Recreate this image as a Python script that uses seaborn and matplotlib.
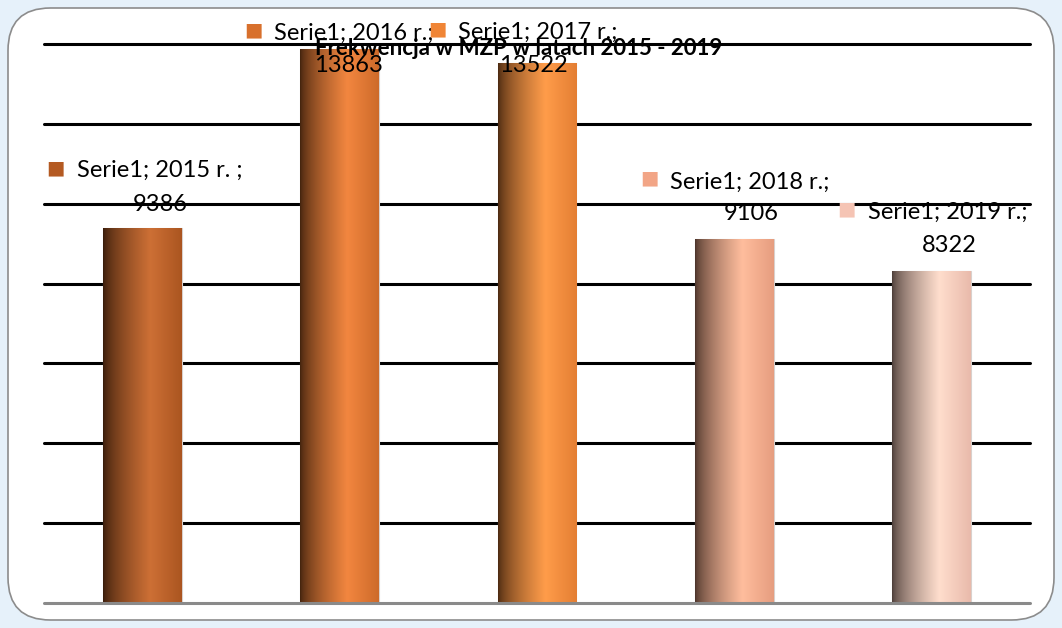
import numpy as np
import pandas as pd
import matplotlib
matplotlib.use("Agg")
import matplotlib.pyplot as plt
from matplotlib.colors import to_rgb
from matplotlib.patches import FancyBboxPatch
import seaborn as sns

# data
years = ["2015 r.", "2016 r.", "2017 r.", "2018 r.", "2019 r."]
values = [9386, 13863, 13522, 9106, 8322]
point_labels = ["Serie1; 2015 r. ;", "Serie1; 2016 r.;", "Serie1; 2017 r.;",
                "Serie1; 2018 r.;", "Serie1; 2019 r.;"]
bar_colors = ["#b45a22", "#d8702c", "#f08536", "#f2a586", "#f5c4b4"]
title = "Frekwencja w MZP w latach 2015 - 2019"

# label placement, offsets in pixels from the bar top:
# square centre, label text (left, baseline), value (centre, baseline)
label_offsets = [
    ((-87, 60), (-66, 51), (18, 17)),
    ((-86, 20), (-66, 10), (9, -23)),
    ((-100, 34), (-79, 24), (-4, -9)),
    ((-85, 61), (-64, 51), (17, 19)),
    ((-85, 62), (-63, 52), (18, 19)),
]

sns.set_style("white")
plt.rcParams["font.family"] = ["Lato", "DejaVu Sans"]

fig = plt.figure(figsize=(10.62, 6.28), dpi=100)
fig.patch.set_facecolor("#e6f1fa")
frame = FancyBboxPatch((8 / 1062, 8 / 628), 1046 / 1062, 612 / 628,
                       boxstyle="round,pad=0,rounding_size=0.04",
                       transform=fig.transFigure, facecolor="white",
                       edgecolor="#8c8c8c", linewidth=1.2,
                       mutation_aspect=1062 / 628, zorder=-5)
fig.patches.append(frame)

ax = fig.add_axes([44 / 1062, 25 / 628, 986 / 1062, 559 / 628])
ax.set_facecolor("none")

df = pd.DataFrame({"year": years, "value": values})
sns.barplot(data=df, x="year", y="value", hue="year", palette=bar_colors,
            legend=False, width=0.4, ax=ax, zorder=3)

ax.set_ylim(0, 14000)
ax.set_xlim(-0.5, len(years) - 0.5)

# cylinder-like shading on each bar
n = 200
t = np.linspace(0, 1, n)
for patch, col in zip(ax.patches, bar_colors):
    base = np.array(to_rgb(col))
    dark = base * 0.3
    light = np.clip(base * 1.04 + 0.07, 0, 1)
    right = base * 0.95
    grad = np.zeros((1, n, 3))
    for i, tt in enumerate(t):
        if tt < 0.6:
            s = (tt / 0.6) ** 0.65
            c = dark * (1 - s) + light * s
        else:
            s = (tt - 0.6) / 0.4
            c = light * (1 - s) + right * s
        grad[0, i] = c
    x0 = patch.get_x()
    w = patch.get_width()
    h = patch.get_height()
    im = ax.imshow(grad, extent=[x0, x0 + w, 0, h], aspect="auto",
                   zorder=4, interpolation="bilinear")
    im.set_clip_path(patch)
    patch.set_edgecolor("#d9d0cc")
    patch.set_linewidth(0.8)

ax.set_ylim(0, 14000)
ax.set_xlim(-0.5, len(years) - 0.5)

for yv in range(2000, 14001, 2000):
    ax.axhline(yv, color="black", linewidth=2.2, zorder=1, clip_on=False)
ax.axhline(0, color="#8a8a8a", linewidth=2.2, zorder=5, clip_on=False)

for s in ax.spines.values():
    s.set_visible(False)
ax.set_xticks([])
ax.set_yticks([])
ax.set_xlabel("")
ax.set_ylabel("")

for i, (lab, v, col) in enumerate(zip(point_labels, values, bar_colors)):
    sq, tx, vl = label_offsets[i]
    ax.annotate("■", (i, v), xytext=sq, textcoords="offset pixels",
                ha="center", va="center", color=col, fontsize=14,
                family="DejaVu Sans", zorder=6)
    ax.annotate(lab, (i, v), xytext=tx, textcoords="offset pixels",
                ha="left", va="baseline", fontsize=17, color="black", zorder=6)
    ax.annotate(str(v), (i, v), xytext=vl, textcoords="offset pixels",
                ha="center", va="baseline", fontsize=17, color="black", zorder=6)

fig.text(519 / 1062, 1 - 55 / 628, title, ha="center", va="baseline",
         fontsize=16, fontweight="bold", color="black", zorder=10)

fig.savefig("out.png", dpi=100, facecolor=fig.get_facecolor())
